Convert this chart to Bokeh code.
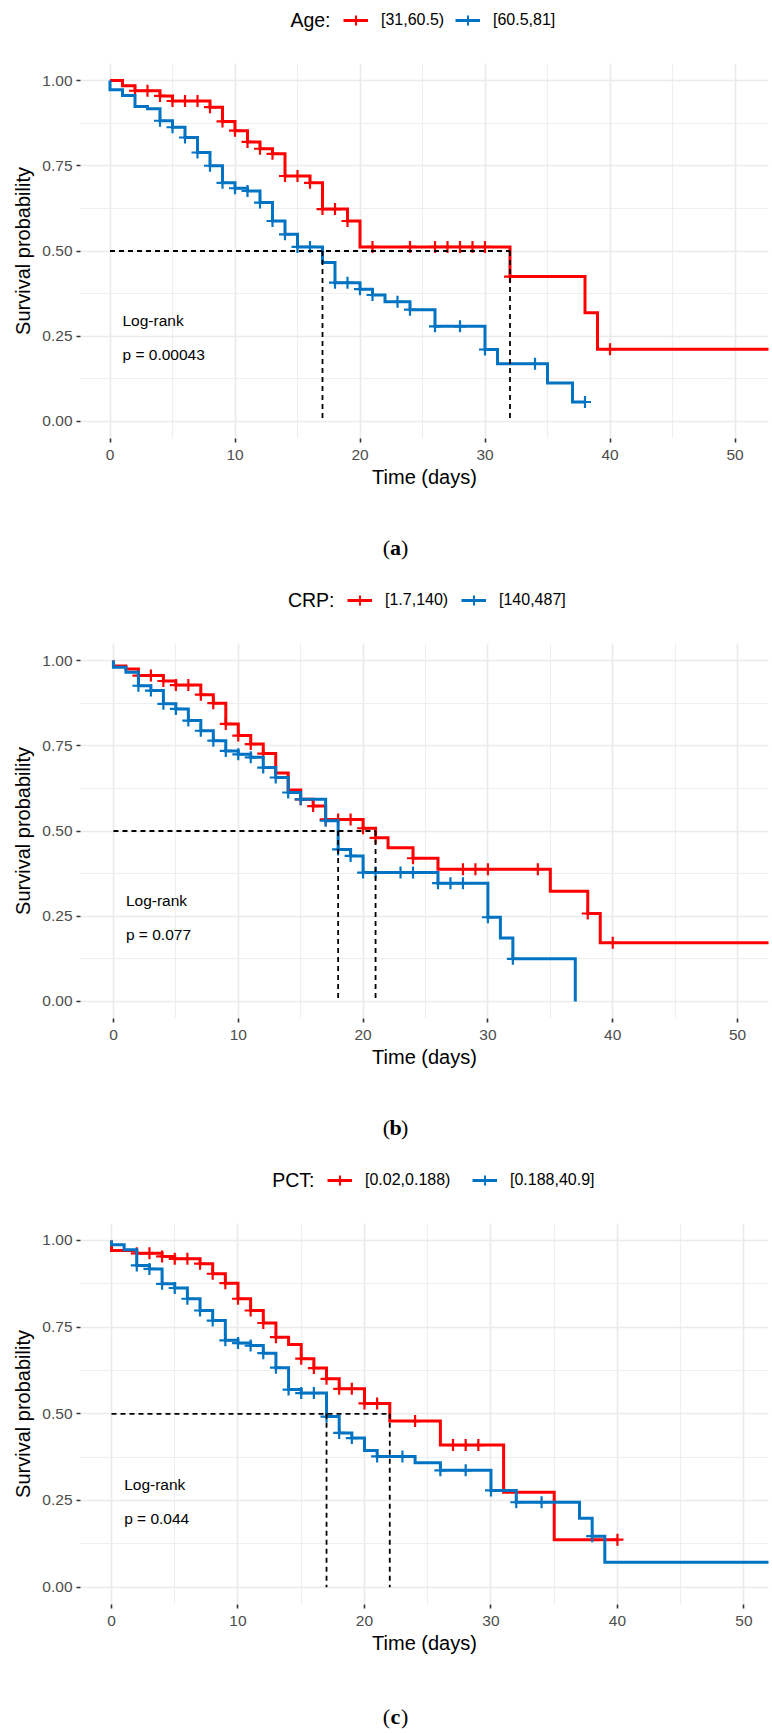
from bokeh.plotting import figure
from bokeh.models import (Range1d, SingleIntervalTicker, NumeralTickFormatter,
                          Legend, LegendItem, Label)
from bokeh.layouts import column
from bokeh.embed import file_html
from bokeh.resources import INLINE

# ---------------- data ----------------
# (a) Age
age_title = "Age:"
age_groups = ["[31,60.5)", "[60.5,81]"]
age_low_times = [0, 1, 2, 4, 5, 8, 9, 10, 11, 12, 13, 14, 16, 17, 19, 20, 32, 38, 39]
age_low_surv = [1.0, 0.985, 0.97, 0.955, 0.94, 0.922, 0.88, 0.853, 0.82, 0.80, 0.785,
                0.72, 0.70, 0.623, 0.588, 0.512, 0.425, 0.319, 0.212]
age_low_end = 60
age_low_censor = [2, 3, 4, 5, 6, 7, 8, 9, 10, 11, 12, 13, 14, 15, 16, 17, 18, 19, 21,
                  24, 26, 27, 28, 29, 30, 32, 40]
age_high_times = [0, 0, 1, 2, 3, 4, 5, 6, 7, 8, 9, 10, 11, 12, 13, 14, 15, 17, 18, 20,
                  21, 22, 24, 26, 30, 31, 35, 37]
age_high_surv = [1.0, 0.973, 0.956, 0.924, 0.917, 0.882, 0.863, 0.833, 0.789, 0.75, 0.70,
                 0.684, 0.676, 0.642, 0.588, 0.549, 0.512, 0.466, 0.407, 0.388, 0.371,
                 0.351, 0.328, 0.279, 0.211, 0.169, 0.113, 0.057]
age_high_end = 38
age_high_censor = [4, 5, 6, 7, 8, 9, 10, 11, 12, 13, 14, 15, 16, 18, 19, 20, 21, 23, 24,
                   26, 28, 30, 34, 38]
age_p = "p = 0.00043"

# (b) CRP
crp_title = "CRP:"
crp_groups = ["[1.7,140)", "[140,487]"]
crp_low_times = [0, 0, 1, 2, 4, 5, 7, 8, 9, 10, 11, 12, 13, 14, 15, 16, 17, 20, 21, 22,
                 24, 26, 35, 38, 39]
crp_low_surv = [1.0, 0.984, 0.975, 0.956, 0.94, 0.928, 0.90, 0.875, 0.814, 0.78, 0.755,
                0.727, 0.67, 0.62, 0.593, 0.573, 0.534, 0.508, 0.48, 0.451, 0.42, 0.388,
                0.323, 0.258, 0.172]
crp_low_end = 60
crp_low_censor = [2, 3, 4, 5, 6, 7, 8, 9, 10, 11, 12, 15, 16, 17, 18, 19, 20, 21, 24, 28,
                  29, 30, 34, 38, 40]
crp_high_times = [0, 0, 1, 2, 3, 4, 5, 6, 7, 8, 9, 10, 11, 12, 13, 14, 15, 17, 18, 19, 20,
                  26, 30, 31, 32, 37]
crp_high_surv = [1.0, 0.98, 0.966, 0.926, 0.912, 0.873, 0.858, 0.824, 0.794, 0.765, 0.735,
                 0.725, 0.716, 0.686, 0.657, 0.613, 0.593, 0.53, 0.446, 0.427, 0.378,
                 0.347, 0.247, 0.186, 0.125, 0.0]
crp_high_end = 37
crp_high_censor = [2, 3, 4, 5, 6, 7, 8, 9, 10, 11, 12, 13, 14, 15, 17, 18, 19, 20, 21, 23,
                   24, 26, 27, 28, 30, 32]
crp_p = "p = 0.077"

# (c) PCT
pct_title = "PCT:"
pct_groups = ["[0.02,0.188)", "[0.188,40.9]"]
pct_low_times = [0, 0, 2, 4, 5, 7, 8, 9, 10, 11, 12, 13, 14, 15, 16, 17, 18, 20, 22, 26,
                 31, 35]
pct_low_surv = [1.0, 0.971, 0.963, 0.954, 0.947, 0.933, 0.904, 0.877, 0.832, 0.798, 0.762,
                0.721, 0.70, 0.659, 0.632, 0.601, 0.572, 0.53, 0.479, 0.41, 0.274, 0.137]
pct_low_end = 40
pct_low_censor = [2, 3, 4, 5, 6, 7, 8, 9, 10, 11, 12, 13, 15, 16, 17, 18, 19, 20, 21, 24,
                  27, 28, 29, 40]
pct_high_times = [0, 0, 1, 2, 3, 4, 5, 6, 7, 8, 9, 10, 11, 12, 13, 14, 15, 17, 18, 19, 20,
                  21, 24, 26, 30, 32, 37, 38, 39]
pct_high_surv = [1.0, 0.988, 0.973, 0.928, 0.918, 0.875, 0.863, 0.832, 0.798, 0.769, 0.712,
                 0.704, 0.697, 0.675, 0.633, 0.57, 0.56, 0.492, 0.445, 0.43, 0.394, 0.377,
                 0.359, 0.337, 0.279, 0.245, 0.199, 0.147, 0.072]
pct_high_end = 60
pct_high_censor = [2, 3, 4, 5, 6, 7, 8, 9, 10, 11, 12, 13, 14, 15, 16, 17, 18, 19, 21, 23,
                   26, 28, 30, 32, 34, 38]
pct_p = "p = 0.044"

x_tick_interval = 10
y_tick_interval = 0.25

RED = "#FF0000"
BLUE = "#0073C2"
FONT = "Liberation Sans"
SERIF = "Liberation Serif"
W = 772
FL, FR = 80, 4          # common frame borders (left, right) for every figure
NAN = float("nan")


def surv_at(times, surv, t):
    s = surv[0]
    for ti, si in zip(times, surv):
        if ti <= t:
            s = si
    return s


def median_time(times, surv):
    for ti, si in zip(times, surv):
        if si <= 0.5:
            return ti
    return None


def strip(height):
    # x data units == page pixels
    f = figure(width=W, height=height, x_range=Range1d(FL, W - FR),
               y_range=Range1d(0, height), output_backend="svg",
               toolbar_location=None, x_axis_type=None, y_axis_type=None,
               min_border_left=FL, min_border_right=FR,
               min_border_top=0, min_border_bottom=0)
    f.grid.visible = False
    f.outline_line_color = None
    f.background_fill_color = "white"
    f.border_fill_color = "white"
    return f


def legend_strip(title, groups, key_lefts):
    h = 40
    f = strip(h)
    for color, label, kx in zip((RED, BLUE), groups, key_lefts):
        # key-only renderers (no visible data) used by the legend
        r_line = f.line(x=[NAN], y=[NAN], line_color=color, line_width=3)
        r_mark = f.scatter(x=[NAN], y=[NAN], marker="cross", line_color=color,
                           line_width=2)
        legend = Legend(items=[LegendItem(label=label, renderers=[r_line, r_mark])],
                        orientation="horizontal",
                        location=(kx - FL, h / 2 - 15),
                        border_line_color=None, background_fill_alpha=0,
                        padding=0, margin=0, spacing=0, label_standoff=13,
                        glyph_width=25, glyph_height=30, label_height=30,
                        label_width=10,
                        label_text_font=FONT, label_text_font_size="16px",
                        label_text_color="black")
        f.add_layout(legend)
    f.add_layout(Label(x=key_lefts[0] - 13, y=h / 2 + 1, text=title, text_font=FONT,
                       text_font_size="19.5px", text_align="right",
                       text_baseline="middle", text_color="black"))
    return f


def caption_strip(letter, height, center_from_top):
    f = strip(height)
    cx = 395
    cy = height - center_from_top
    common = dict(y=cy, text_font=SERIF, text_font_size="22px", text_baseline="middle",
                  text_color="black")
    f.add_layout(Label(x=cx - 5.5, text="(", text_align="right", **common))
    f.add_layout(Label(x=cx, text=letter, text_align="center", text_font_style="bold",
                       **common))
    f.add_layout(Label(x=cx + 5.5, text=")", text_align="left", **common))
    return f


def make_panel(series, pval, height, top, bottom, xr, yr):
    p = figure(width=W, height=height, x_range=Range1d(*xr), y_range=Range1d(*yr),
               output_backend="svg", toolbar_location=None,
               min_border_left=FL, min_border_right=FR,
               min_border_top=top, min_border_bottom=bottom)
    p.outline_line_color = None
    p.background_fill_color = "white"
    p.border_fill_color = "white"

    p.xaxis.ticker = SingleIntervalTicker(interval=x_tick_interval, num_minor_ticks=2)
    p.yaxis.ticker = SingleIntervalTicker(interval=y_tick_interval, num_minor_ticks=2)
    p.yaxis.formatter = NumeralTickFormatter(format="0.00")
    p.xaxis.formatter = NumeralTickFormatter(format="0")
    for ax in (p.xaxis, p.yaxis):
        ax.axis_line_color = None
        ax.major_tick_line_color = "#333333"
        ax.major_tick_line_width = 1.6
        ax.major_tick_in = 0
        ax.major_tick_out = 4
        ax.minor_tick_line_color = None
        ax.major_label_text_font = FONT
        ax.major_label_text_font_size = "15.5px"
        ax.major_label_text_color = "#4D4D4D"
        ax.axis_label_text_font = FONT
        ax.axis_label_text_font_size = "20px"
        ax.axis_label_text_font_style = "normal"
        ax.axis_label_text_color = "black"
    p.xaxis.axis_label = "Time (days)"
    p.yaxis.axis_label = "Survival probability"
    p.xaxis.major_label_standoff = 7
    p.yaxis.major_label_standoff = 4
    p.xaxis.axis_label_standoff = 3
    p.yaxis.axis_label_standoff = 5

    for g in (p.xgrid, p.ygrid):
        g.grid_line_color = "#EBEBEB"
        g.grid_line_width = 1.6
        g.minor_grid_line_color = "#EFEFEF"
        g.minor_grid_line_width = 1.2

    medians = []
    for (times, surv, end, censor), color in zip(series, (RED, BLUE)):
        xs = list(times) + [end]
        ys = list(surv) + [surv[-1]]
        p.step(xs, ys, mode="after", line_color=color, line_width=3, line_join="miter")
        cy = [surv_at(times, surv, t) for t in censor]
        p.scatter(list(censor), cy, marker="cross", size=12, line_color=color,
                  line_width=2.2)
        medians.append(median_time(times, surv))

    # median survival guide lines
    mmax = max(medians)
    p.segment(x0=[0] + medians, y0=[0.5] * (1 + len(medians)),
              x1=[mmax] + medians, y1=[0.5] + [0.0] * len(medians),
              line_color="black", line_width=1.8, line_dash="5 4")

    p.add_layout(Label(x=1, y=0.295, text="Log-rank", text_font=FONT,
                       text_font_size="15.5px", text_baseline="middle",
                       text_align="left", text_color="black"))
    p.add_layout(Label(x=1, y=0.197, text=pval, text_font=FONT,
                       text_font_size="15.5px", text_baseline="middle",
                       text_align="left", text_color="black"))
    return p


# panel (a): legend 0-40, plot 40-510, caption 510-580
la = legend_strip(age_title, age_groups, (343, 455))
pa = make_panel([(age_low_times, age_low_surv, age_low_end, age_low_censor),
                 (age_high_times, age_high_surv, age_high_end, age_high_censor)],
                age_p, 470, 23, 72, (-2.36, 52.68), (-0.05, 1.05))
ca = caption_strip("a", 70, 37)

# panel (b): legend 580-620, plot 620-1090, caption 1090-1160
lb = legend_strip(crp_title, crp_groups, (347, 461))
pb = make_panel([(crp_low_times, crp_low_surv, crp_low_end, crp_low_censor),
                 (crp_high_times, crp_high_surv, crp_high_end, crp_high_censor)],
                crp_p, 470, 23, 72, (-2.64, 52.48), (-0.05, 1.05))
cb = caption_strip("b", 70, 37)

# panel (c): legend 1160-1200, plot 1200-1676, caption 1676-1733
lc = legend_strip(pct_title, pct_groups, (327, 472))
pc = make_panel([(pct_low_times, pct_low_surv, pct_low_end, pct_low_censor),
                 (pct_high_times, pct_high_surv, pct_high_end, pct_high_censor)],
                pct_p, 476, 23, 72, (-2.45, 51.94), (-0.05, 1.049))
cc = caption_strip("c", 57, 40)

layout = column(la, pa, ca, lb, pb, cb, lc, pc, cc, spacing=0)
open("out.html", "w").write(file_html(layout, INLINE))
